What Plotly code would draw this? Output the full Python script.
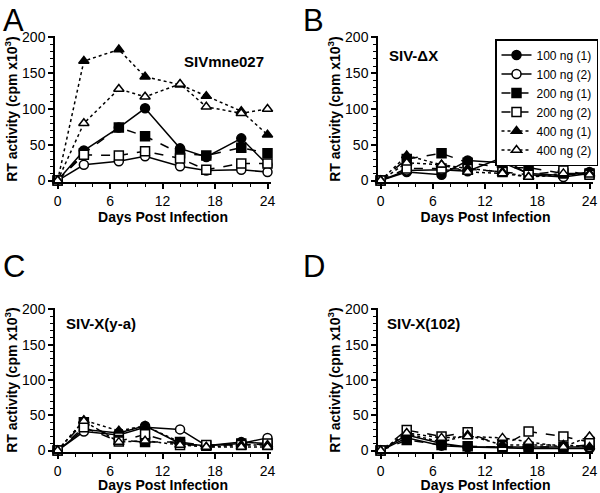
import plotly.graph_objects as go
from plotly.subplots import make_subplots

days = [0, 3, 7, 10, 14, 17, 21, 24]
series_names = ["100 ng (1)", "100 ng (2)", "200 ng (1)", "200 ng (2)", "400 ng (1)", "400 ng (2)"]

# Panel A: SIVmne027
A_100_1 = [0, 42, 74, 101, 45, 33, 59, 22]
A_100_2 = [0, 22, 27, 34, 20, 14, 15, 12]
A_200_1 = [0, 38, 74, 62, 38, 35, 46, 38]
A_200_2 = [0, 36, 35, 41, 31, 15, 24, 24]
A_400_1 = [0, 167, 183, 145, 134, 118, 97, 64]
A_400_2 = [0, 80, 128, 117, 135, 103, 94, 100]

# Panel B: SIV-ΔX
B_100_1 = [0, 12, 8, 28, 25, 10, 7, 12]
B_100_2 = [0, 14, 15, 13, 32, 8, 5, 10]
B_200_1 = [0, 30, 38, 25, 18, 18, 10, 10]
B_200_2 = [0, 17, 17, 16, 12, 8, 14, 8]
B_400_1 = [0, 35, 22, 17, 12, 5, 8, 10]
B_400_2 = [0, 25, 22, 12, 10, 5, 10, 8]

# Panel C: SIV-X(y-a)
C_100_1 = [0, 30, 25, 35, 10, 7, 12, 10]
C_100_2 = [0, 27, 22, 33, 30, 7, 10, 18]
C_200_1 = [0, 40, 15, 12, 12, 7, 10, 8]
C_200_2 = [0, 33, 13, 23, 8, 8, 8, 10]
C_400_1 = [0, 43, 28, 35, 12, 5, 8, 8]
C_400_2 = [0, 42, 12, 14, 8, 5, 5, 5]

# Panel D: SIV-X(102)
D_100_1 = [0, 18, 7, 5, 4, 3, 3, 3]
D_100_2 = [0, 22, 10, 5, 5, 5, 5, 5]
D_200_1 = [0, 15, 8, 6, 5, 5, 5, 8]
D_200_2 = [0, 29, 20, 26, 6, 27, 20, 12]
D_400_1 = [0, 24, 12, 22, 8, 8, 8, 5]
D_400_2 = [0, 25, 18, 20, 18, 12, 5, 20]

panels = [
    ("SIVmne027", [A_100_1, A_100_2, A_200_1, A_200_2, A_400_1, A_400_2]),
    ("SIV-ΔX", [B_100_1, B_100_2, B_200_1, B_200_2, B_400_1, B_400_2]),
    ("SIV-X(y-a)", [C_100_1, C_100_2, C_200_1, C_200_2, C_400_1, C_400_2]),
    ("SIV-X(102)", [D_100_1, D_100_2, D_200_1, D_200_2, D_400_1, D_400_2]),
]
panel_letters = ["A", "B", "C", "D"]

styles = [
    dict(symbol="circle", fill="black", dash="solid"),
    dict(symbol="circle", fill="white", dash="solid"),
    dict(symbol="square", fill="black", dash="dash"),
    dict(symbol="square", fill="white", dash="dash"),
    dict(symbol="triangle-up", fill="black", dash="dot"),
    dict(symbol="triangle-up", fill="white", dash="dot"),
]

FONT = "Arial, Liberation Sans, sans-serif"

fig = make_subplots(rows=2, cols=2)

W, H = 600, 493
def xd(a, b):
    return [a / W, b / W]
def yd(top, bottom):
    return [1 - bottom / H, 1 - top / H]

domains = [
    (xd(55, 271), yd(36, 182)),
    (xd(378, 593), yd(36, 182)),
    (xd(55, 271), yd(308, 452)),
    (xd(378, 593), yd(308, 452)),
]

for p, (title, data) in enumerate(panels):
    r, c = p // 2 + 1, p % 2 + 1
    for i, vals in enumerate(data):
        st = styles[i]
        fig.add_trace(go.Scatter(
            x=days, y=vals, mode="lines+markers", name=series_names[i],
            showlegend=(p == 1),
            line=dict(color="black", width=1.5, dash=st["dash"]),
            marker=dict(symbol=st["symbol"], size=9, color=st["fill"],
                        line=dict(color="black", width=1.5)),
            cliponaxis=False,
        ), row=r, col=c)

axis_common = dict(showline=True, linecolor="black", linewidth=1.5, ticks="outside",
                   ticklen=5, tickwidth=1.5, tickcolor="black", showgrid=False, zeroline=False,
                   tickfont=dict(family=FONT, size=14, color="black"), mirror=False,
                   automargin=False)

for p in range(4):
    sfx = "" if p == 0 else str(p + 1)
    xdom, ydom = domains[p]
    fig.layout["xaxis" + sfx].update(
        domain=xdom, range=[-0.3, 24.4], tickvals=[0, 6, 12, 18, 24],
        minor=dict(dtick=2, ticks="outside", ticklen=3, tickcolor="black", tickwidth=1),
        title=dict(text="<b>Days Post Infection</b>", font=dict(family=FONT, size=14, color="black"), standoff=2),
        **axis_common)
    fig.layout["yaxis" + sfx].update(
        domain=ydom, range=[-2, 202], tickvals=[0, 50, 100, 150, 200],
        minor=dict(dtick=10, ticks="outside", ticklen=3, tickcolor="black", tickwidth=1),
        title=dict(text="<b>RT activity (cpm x10<sup>3</sup>)</b>", font=dict(family=FONT, size=14, color="black"), standoff=1),
        **axis_common)

annotations = []
letter_pos = [(1, 1), (301, 1), (1, 247), (301, 247)]
for p, L in enumerate(panel_letters):
    lx, ly = letter_pos[p]
    annotations.append(dict(text=L, x=lx / W, y=1 - ly / H, xref="paper", yref="paper",
                            xanchor="left", yanchor="top", showarrow=False,
                            font=dict(family=FONT, size=31, color="black")))

title_pos = [(266, 62, "right"), (387, 55, "left"), (64, 323, "left"), (385, 323, "left")]
for p, (title, _) in enumerate(panels):
    tx, ty, anc = title_pos[p]
    annotations.append(dict(text="<b>" + title + "</b>", x=tx / W, y=1 - ty / H, xref="paper", yref="paper",
                            xanchor=anc, yanchor="middle", showarrow=False,
                            font=dict(family=FONT, size=15, color="black")))

fig.update_layout(
    width=W, height=H,
    margin=dict(l=0, r=0, t=0, b=0, autoexpand=False),
    paper_bgcolor="white", plot_bgcolor="white",
    annotations=annotations,
    legend=dict(x=598 / W, y=1 - 39 / H, xanchor="right", yanchor="top",
                bordercolor="black", borderwidth=1.5, bgcolor="white",
                font=dict(family=FONT, size=12, color="black"),
                itemwidth=30, tracegroupgap=0),
)

fig.write_html("out.html", config={"displayModeBar": False},
               post_script="document.body.style.margin='0';document.body.style.overflow='hidden';")
